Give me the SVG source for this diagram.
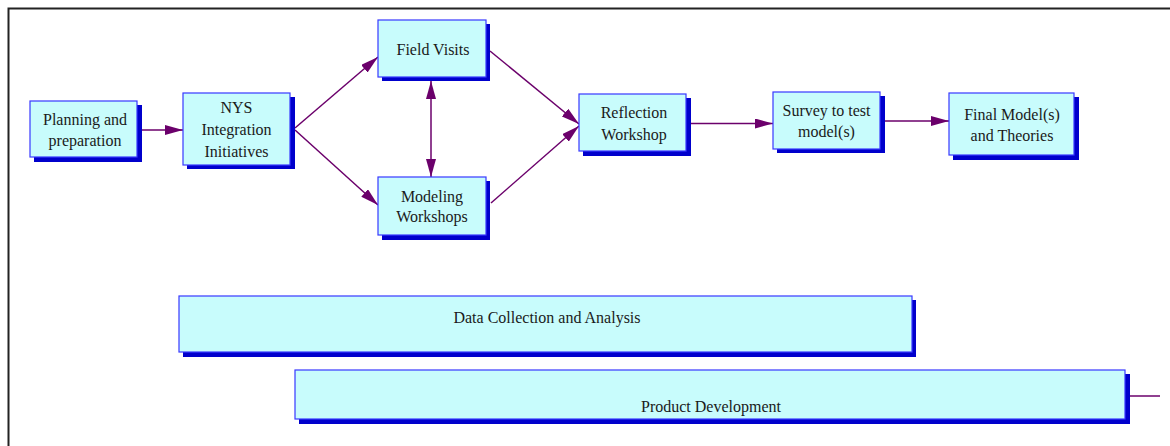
<svg xmlns="http://www.w3.org/2000/svg" width="1170" height="446" viewBox="0 0 1170 446">
<style>
.shadow{fill:#0000CC;}
.box{fill:#C8FCFC;stroke:#3838FF;stroke-width:1.2;}
.lbl{font-family:"Liberation Serif","Times New Roman",serif;font-size:16px;fill:#1a1a1a;text-anchor:middle;}
.conn{stroke:#6B006B;stroke-width:1.5;fill:none;}
</style>
<defs>
<marker id="ah" viewBox="0 0 18 10" refX="18" refY="5" markerWidth="18" markerHeight="10" markerUnits="userSpaceOnUse" orient="auto-start-reverse">
<path d="M0,0 L18,5 L0,10 Z" fill="#6B006B"/>
</marker>
</defs>
<rect width="1170" height="446" fill="#ffffff"/>
<path d="M8.5,446 V8.5 H1170" fill="none" stroke="#222" stroke-width="2"/>

<g id="connectors">
<line class="conn" x1="141" y1="130" x2="183" y2="130" marker-end="url(#ah)"/>
<line class="conn" x1="295" y1="128" x2="378" y2="57" marker-end="url(#ah)"/>
<line class="conn" x1="295" y1="130" x2="378" y2="205" marker-end="url(#ah)"/>
<line class="conn" x1="431" y1="81" x2="431" y2="177" marker-start="url(#ah)" marker-end="url(#ah)"/>
<line class="conn" x1="490" y1="51" x2="579" y2="124" marker-end="url(#ah)"/>
<line class="conn" x1="491" y1="203" x2="579" y2="126" marker-end="url(#ah)"/>
<line class="conn" x1="691" y1="123.5" x2="773" y2="123.5" marker-end="url(#ah)"/>
<line class="conn" x1="885" y1="121" x2="949" y2="121" marker-end="url(#ah)"/>
<line class="conn" x1="1130" y1="396" x2="1160" y2="396"/>
</g>

<g id="planning">
<rect class="shadow" x="34" y="105" width="108" height="57"/>
<rect class="box" x="30" y="101" width="107" height="56"/>
<text class="lbl" x="85" y="125">Planning and</text>
<text class="lbl" x="85" y="146">preparation</text>
</g>

<g id="nys">
<rect class="shadow" x="187" y="97" width="108" height="72"/>
<rect class="box" x="183" y="93" width="107" height="72"/>
<text class="lbl" x="236.5" y="113">NYS</text>
<text class="lbl" x="236.5" y="135">Integration</text>
<text class="lbl" x="236.5" y="157">Initiatives</text>
</g>

<g id="field-visits">
<rect class="shadow" x="382" y="24" width="108" height="57"/>
<rect class="box" x="378" y="20" width="108" height="57"/>
<text class="lbl" x="433" y="55">Field Visits</text>
</g>

<g id="modeling-workshops">
<rect class="shadow" x="382" y="181" width="108" height="59"/>
<rect class="box" x="378" y="177" width="108" height="58"/>
<text class="lbl" x="432" y="202">Modeling</text>
<text class="lbl" x="432" y="222">Workshops</text>
</g>

<g id="reflection-workshop">
<rect class="shadow" x="583" y="98" width="108" height="58"/>
<rect class="box" x="579" y="94" width="107" height="57"/>
<text class="lbl" x="634" y="118">Reflection</text>
<text class="lbl" x="634" y="140">Workshop</text>
</g>

<g id="survey">
<rect class="shadow" x="777" y="96" width="108" height="57"/>
<rect class="box" x="773" y="92" width="107" height="57"/>
<text class="lbl" x="826.5" y="116">Survey to test</text>
<text class="lbl" x="826.5" y="137">model(s)</text>
</g>

<g id="final-models">
<rect class="shadow" x="953" y="97" width="126" height="63"/>
<rect class="box" x="949" y="93" width="125" height="62"/>
<text class="lbl" x="1012" y="120">Final Model(s)</text>
<text class="lbl" x="1012" y="141">and Theories</text>
</g>

<g id="data-collection">
<rect class="shadow" x="183" y="300" width="733" height="57"/>
<rect class="box" x="179" y="296" width="733" height="56"/>
<text class="lbl" x="547" y="323">Data Collection and Analysis</text>
</g>

<g id="product-development">
<rect class="shadow" x="299" y="374" width="831" height="50"/>
<rect class="box" x="295" y="370" width="830" height="49"/>
<text class="lbl" x="711" y="412">Product Development</text>
</g>
</svg>
